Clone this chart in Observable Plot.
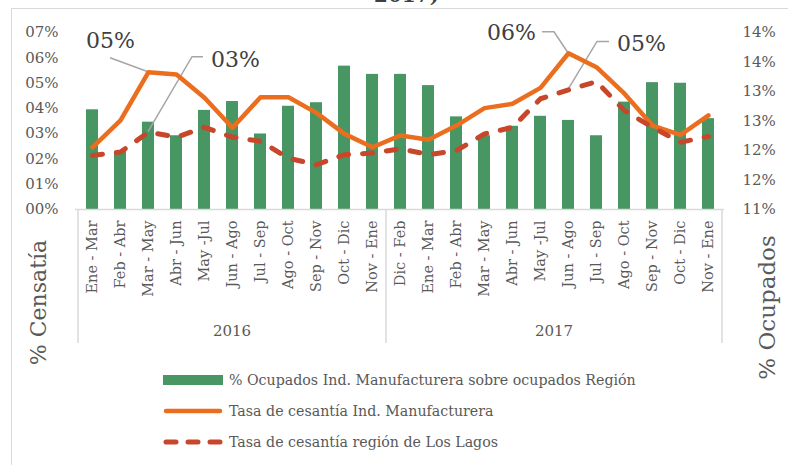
<!DOCTYPE html>
<html><head><meta charset="utf-8">
<script src="https://cdn.jsdelivr.net/npm/d3@7"></script>
<script src="https://cdn.jsdelivr.net/npm/@observablehq/plot@0.6"></script>
<style>
body{margin:0;background:#fff;}
#wrap{position:relative;width:788px;height:465px;overflow:hidden;font-family:"DejaVu Serif",serif;color:#595959;}
#frame{position:absolute;left:11px;top:8px;right:-5px;bottom:-5px;border-left:1.5px solid #d9d9d9;border-top:1.5px solid #d9d9d9;}
#title{position:absolute;left:374px;top:-17px;font-weight:bold;font-size:20px;color:#404040;white-space:nowrap;}
#chart{position:absolute;left:0;top:0;}
#legend{position:absolute;left:163px;top:364px;}
.row{display:flex;align-items:center;height:31px;font-size:14.2px;color:#595959;}
.row svg{margin-right:5px;}
</style></head><body><div id="wrap"><div id="frame"></div><div id="title">2017)</div><div id="chart"></div>
<div id="legend"></div></div>
<script>
// ---- data ----
const years = ["2016", "2017"];
const periods2016 = ["Ene - Mar","Feb - Abr","Mar - May","Abr - Jun","May -Jul","Jun - Ago","Jul - Sep","Ago - Oct","Sep - Nov","Oct - Dic","Nov - Ene"];
const periods2017 = ["Dic - Feb","Ene - Mar","Feb - Abr","Mar - May","Abr - Jun","May -Jul","Jun - Ago","Jul - Sep","Ago - Oct","Sep - Nov","Oct - Dic","Nov - Ene"];
// % Ocupados Ind. Manufacturera sobre ocupados Región (right axis, %)
const ocupados = [12.69,11.98,12.48,12.25,12.68,12.83,12.28,12.75,12.81,13.43,13.29,
                  13.29,13.10,12.57,12.25,12.41,12.58,12.51,12.25,12.82,13.15,13.14,12.54];
// Tasa de cesantía Ind. Manufacturera (left axis, %)
const cesantiaManuf = [2.46,3.52,5.43,5.34,4.42,3.23,4.44,4.44,3.82,2.99,2.46,
                       2.93,2.76,3.32,4.01,4.18,4.81,6.18,5.63,4.58,3.32,2.95,3.72];
// Tasa de cesantía región de Los Lagos (left axis, %)
const cesantiaRegion = [2.14,2.27,3.06,2.86,3.25,2.86,2.70,2.03,1.77,2.17,2.23,
                        2.40,2.17,2.33,2.99,3.25,4.38,4.73,5.06,3.91,3.25,2.66,2.89];
const leftTicks = [0,1,2,3,4,5,6,7];
const rightTicks = [11,11.5,12,12.5,13,13.5,14];
const rightTickLabels = ["11%","12%","12%","13%","13%","14%","14%"];
const seriesNames = ["% Ocupados Ind. Manufacturera sobre ocupados Región","Tasa de cesantía Ind. Manufacturera","Tasa de cesantía región de Los Lagos"];
const axisTitleLeft = "% Censatía";
const axisTitleRight = "% Ocupados";

// ---- build ----
const FONT = "'DejaVu Serif', serif";
const GREEN = "#489664", ORANGE = "#eb6e1e", RED = "#c8462a", GRID = "#d9d9d9";
const groups = [periods2016, periods2017];
const rows = [];
groups.forEach((ps, g) => ps.forEach(p => rows.push({key: years[g] + "|" + p, period: p, year: years[g]})));
rows.forEach((r, i) => { r.ocup = ocupados[i]; r.manuf = cesantiaManuf[i]; r.region = cesantiaRegion[i]; });
const keys = rows.map(r => r.key);
const R0 = rightTicks[0], R1 = rightTicks[rightTicks.length-1], L1 = leftTicks[leftTicks.length-1];
const toLeft = v => (v - R0) / (R1 - R0) * L1;
const rightMapped = rightTicks.map(toLeft);
const pct2 = v => String(Math.round(v)).padStart(2, "0") + "%";

const annots = [
  {i: 2, s: "manuf", dx: -38, dy: -31, path: [[-38,-14]]},
  {i: 2, s: "region", dx: 87, dy: -72, path: [[44,-75],[55,-75]]},
  {i: 17, s: "manuf", dx: -57, dy: -20, path: [[-14,-21],[-26,-21]]},
  {i: 17, s: "region", dx: 73, dy: -46, path: [[29,-48],[41,-48]]}
];

function bandw(x) { return typeof x.bandwidth === "function" ? x.bandwidth() : (x.bandwidth || 0); }

const leaders = (index, scales) => {
  const g = d3.create("svg:g").attr("fill", "none").attr("stroke", "#a6a6a6").attr("stroke-width", 1.5);
  const bw = bandw(scales.x);
  for (const a of annots) {
    const r = rows[a.i];
    const cx = scales.x(r.key) + bw / 2, cy = scales.y(r[a.s]);
    const pts = [[cx, cy], ...a.path.map(([ox, oy]) => [cx + ox, cy + oy])];
    g.append("path").attr("d", d3.line()(pts));
  }
  return g.node();
};

const groupAxis = (index, scales) => {
  const g = d3.create("svg:g");
  const bw = bandw(scales.x);
  const step = scales.x(keys[1]) - scales.x(keys[0]);
  const y0 = scales.y(0);
  const edges = [0];
  let n = 0;
  groups.forEach(ps => { n += ps.length; edges.push(n); });
  const edgeX = j => j < keys.length ? scales.x(keys[j]) + bw/2 - step/2 : scales.x(keys[keys.length-1]) + bw/2 + step/2;
  edges.forEach(j => g.append("line").attr("x1", edgeX(j)).attr("x2", edgeX(j)).attr("y1", y0).attr("y2", y0 + 134)
    .attr("stroke", GRID).attr("stroke-width", 1.5));
  for (let k = 0; k < groups.length; k++) {
    const xm = (edgeX(edges[k]) + edgeX(edges[k+1])) / 2;
    g.append("text").attr("x", xm).attr("y", y0 + 127).attr("text-anchor", "middle")
      .attr("fill", "#595959").attr("font-size", 15).attr("font-family", FONT).text(years[k]);
  }
  return g.node();
};

const chart = Plot.plot({
  width: 788, height: 362,
  marginLeft: 75, marginRight: 64, marginTop: 32, marginBottom: 153,
  style: {fontFamily: FONT, fontSize: "14px", color: "#595959", background: "transparent", overflow: "visible"},
  x: {type: "band", domain: keys, paddingInner: 0.58, paddingOuter: 0.29, axis: null},
  y: {domain: [0, L1], axis: null},
  marks: [
    Plot.barY(rows, {x: "key", y: d => toLeft(d.ocup), fill: GREEN}),
    Plot.ruleY([0], {stroke: GRID, strokeWidth: 1.5}),
    groupAxis,
    leaders,
    Plot.line(rows, {x: "key", y: "manuf", stroke: ORANGE, strokeWidth: 4.5, strokeLinejoin: "round", strokeLinecap: "round"}),
    Plot.line(rows, {x: "key", y: "region", stroke: RED, strokeWidth: 5, strokeDasharray: "10,14", strokeLinecap: "round", strokeLinejoin: "round"}),
    Plot.axisX({tickSize: 0, tickPadding: 11, tickRotate: -90, tickFormat: k => k.split("|")[1], fontSize: 14.5, fill: "#595959", label: null}),
    Plot.axisY({ticks: leftTicks, tickSize: 0, tickPadding: 17, tickFormat: pct2, fontSize: 15, fill: "#595959", label: null}),
    Plot.axisY({anchor: "right", ticks: rightMapped, tickSize: 0, tickPadding: 18, tickFormat: d => rightTickLabels[rightMapped.indexOf(d)], fontSize: 15, fill: "#595959", label: null}),
    ...annots.map(a => Plot.text([rows[a.i]], {x: "key", y: a.s, text: d => pct2(d[a.s]), dx: a.dx, dy: a.dy, fontSize: 22, fontFamily: FONT, fill: "#404040"})),
    Plot.text([axisTitleLeft], {frameAnchor: "bottom-left", text: d => d, rotate: -90, textAnchor: "middle", dx: -30, dy: 93, fontSize: 22, fontFamily: FONT, fill: "#595959"}),
    Plot.text([axisTitleRight], {frameAnchor: "bottom-right", text: d => d, rotate: -90, textAnchor: "middle", dx: 50, dy: 98, fontSize: 23, fontFamily: FONT, fill: "#595959"})
  ]
});
document.getElementById("chart").appendChild(chart);

// legend
const leg = document.getElementById("legend");
const sw = [
  `<rect x="0" y="5" width="60" height="10" fill="${GREEN}"/>`,
  `<line x1="3" y1="10" x2="57" y2="10" stroke="${ORANGE}" stroke-width="4.5" stroke-linecap="round"/>`,
  `<line x1="3" y1="10" x2="60" y2="10" stroke="${RED}" stroke-width="5" stroke-dasharray="10,12" stroke-linecap="round"/>`
];
seriesNames.forEach((name, i) => {
  const d = document.createElement("div");
  d.className = "row";
  d.innerHTML = `<svg width="61" height="20">${sw[i]}</svg><span>${name}</span>`;
  leg.appendChild(d);
});
</script></body></html>
